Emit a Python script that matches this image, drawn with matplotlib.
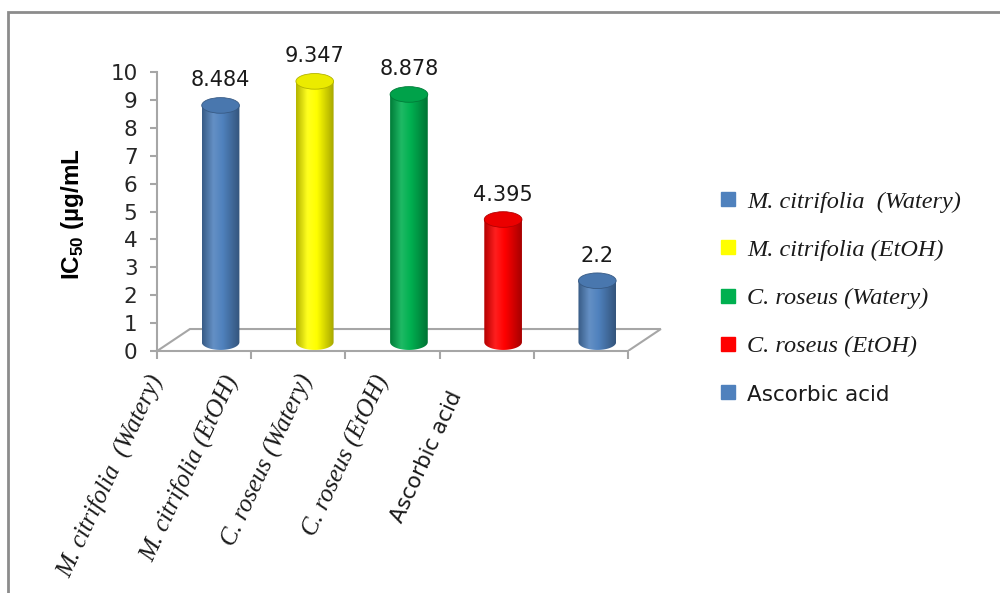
import numpy as np
import matplotlib
matplotlib.use('Agg')
import matplotlib.pyplot as plt
from matplotlib.colors import LinearSegmentedColormap, to_rgb
from matplotlib.patches import Polygon, Ellipse, Rectangle, PathPatch
from matplotlib.path import Path
from matplotlib.lines import Line2D
from matplotlib import transforms

# données
categories = ['M. citrifolia  (Watery)', 'M. citrifolia (EtOH)', 'C. roseus (Watery)',
              'C. roseus (EtOH)', 'Ascorbic acid']
ic50 = [8.484, 9.347, 8.878, 4.395, 2.2]
value_labels = ['8.484', '9.347', '8.878', '4.395', '2.2']
y_ticks = list(range(0, 11))

# styles
bar_colors = ['#4F81BD', '#FFFF00', '#00B050', '#FF0000', '#4F81BD']
is_latin = [True, True, True, True, False]

plt.rcParams['mathtext.fontset'] = 'custom'
plt.rcParams['mathtext.rm'] = 'Liberation Sans'
plt.rcParams['mathtext.bf'] = 'Liberation Sans:bold'


def mix(c, other, f):
    c = np.array(to_rgb(c))
    o = np.array(to_rgb(other))
    return tuple(c * (1 - f) + o * f)


fig = plt.figure(figsize=(10, 5.93), dpi=100)

# cadre gris autour du graphique
fig.add_artist(Rectangle((0.008, -0.05), 1.2, 0.9798 + 0.05, transform=fig.transFigure,
                         fill=False, edgecolor='#8C8C8C', linewidth=2))

ax = fig.add_axes([0.157, 0.408, 0.518, 0.4987])
ax.set_xlim(-0.5, 5.0)
ax.set_ylim(0, 10.6)

# profondeur 3D (en unités des axes)
dx, dy = 0.35, 0.79
w, eh = 0.40, 0.56

# plancher
floor = Polygon([(-0.5, 0), (4.5, 0), (4.5 + dx, dy), (-0.5 + dx, dy)], closed=True,
                facecolor='white', edgecolor='#A6A6A6', linewidth=1.5, zorder=1)
ax.add_patch(floor)

# cylindres
for i, (v, c) in enumerate(zip(ic50, bar_colors)):
    cx = i + dx / 2
    base = 0.32
    top = base + v
    cmap = LinearSegmentedColormap.from_list(
        'cyl%d' % i,
        [(0.0, mix(c, 'black', 0.30)), (0.3, mix(c, 'white', 0.12)),
         (0.55, c), (1.0, mix(c, 'black', 0.35))])
    grad = np.linspace(0, 1, 256).reshape(1, -1)
    im = ax.imshow(grad, cmap=cmap, extent=[cx - w / 2, cx + w / 2, base - eh / 2, top],
                   aspect='auto', zorder=3, interpolation='bicubic')
    t = np.linspace(np.pi, 2 * np.pi, 50)
    verts = [(cx - w / 2, top), (cx - w / 2, base)]
    verts += list(zip(cx + w / 2 * np.cos(t), base + eh / 2 * np.sin(t)))
    verts += [(cx + w / 2, top), (cx - w / 2, top)]
    codes = [Path.MOVETO] + [Path.LINETO] * (len(verts) - 2) + [Path.CLOSEPOLY]
    body = PathPatch(Path(verts, codes), facecolor='none', edgecolor='none',
                     transform=ax.transData)
    ax.add_patch(body)
    im.set_clip_path(body)
    ax.add_patch(Ellipse((cx, top), w, eh, facecolor=mix(c, 'black', 0.08),
                         edgecolor=mix(c, 'black', 0.3), linewidth=0.6, zorder=4))
    ax.annotate(value_labels[i], (cx, top), xytext=(0, 18), textcoords='offset points',
                ha='center', va='center', fontsize=15, color='#1a1a1a',
                family='DejaVu Sans', zorder=5)

# axes
for s in ['top', 'right']:
    ax.spines[s].set_visible(False)
ax.spines['left'].set_bounds(0, 10)
ax.spines['bottom'].set_bounds(-0.5, 4.5)
for s in ['left', 'bottom']:
    ax.spines[s].set_color('#A6A6A6')
    ax.spines[s].set_linewidth(1.5)
    ax.spines[s].set_zorder(2)

ax.set_yticks(y_ticks)
ax.set_yticklabels([str(t) for t in y_ticks], fontsize=15.5, color='#262626',
                   family='DejaVu Sans')
ax.set_xticks(np.arange(-0.5, 5, 1.0))
ax.set_xticklabels([])
ax.tick_params(axis='y', length=5, width=1.5, color='#A6A6A6', pad=9)
ax.tick_params(axis='x', length=6, width=1.5, color='#A6A6A6')
ax.patch.set_visible(False)

# étiquettes des catégories (inclinées)
xtrans = transforms.blended_transform_factory(ax.transData, ax.transAxes)
for i, lab in enumerate(categories):
    if is_latin[i]:
        ax.text(-0.5 + 0.8 * i, -0.085, lab, rotation=65, rotation_mode='anchor',
                ha='right', va='center', transform=xtrans, fontsize=18,
                family='Liberation Serif', style='italic', color='#1a1a1a')
    else:
        ax.text(-0.52 + 0.8 * i, -0.14, lab, rotation=65, rotation_mode='anchor',
                ha='right', va='center', transform=xtrans, fontsize=15.5,
                family='DejaVu Sans', color='#1a1a1a')

# titre axe y
fig.text(0.072, 0.639, r'IC$_{\mathbf{50}}$ (µg/mL', rotation=90, ha='center', va='center',
         fontsize=17.5, fontweight='bold', family='Liberation Sans', color='black')

# légende
handles = [Line2D([], [], marker='s', linestyle='none', markersize=9.5,
                  markerfacecolor=c, markeredgecolor=c) for c in bar_colors]
leg = fig.legend(handles, categories, loc='upper left', bbox_to_anchor=(0.707, 0.699),
                 frameon=False, borderpad=0, labelspacing=1.08, handlelength=0.7,
                 handletextpad=0.45, prop={'size': 17.5})
for txt, latin in zip(leg.get_texts(), is_latin):
    txt.set_color('#1a1a1a')
    if latin:
        txt.set_fontfamily('Liberation Serif')
        txt.set_fontstyle('italic')
    else:
        txt.set_fontfamily('DejaVu Sans')
        txt.set_fontsize(15.5)

fig.savefig('out.png', dpi=100)
